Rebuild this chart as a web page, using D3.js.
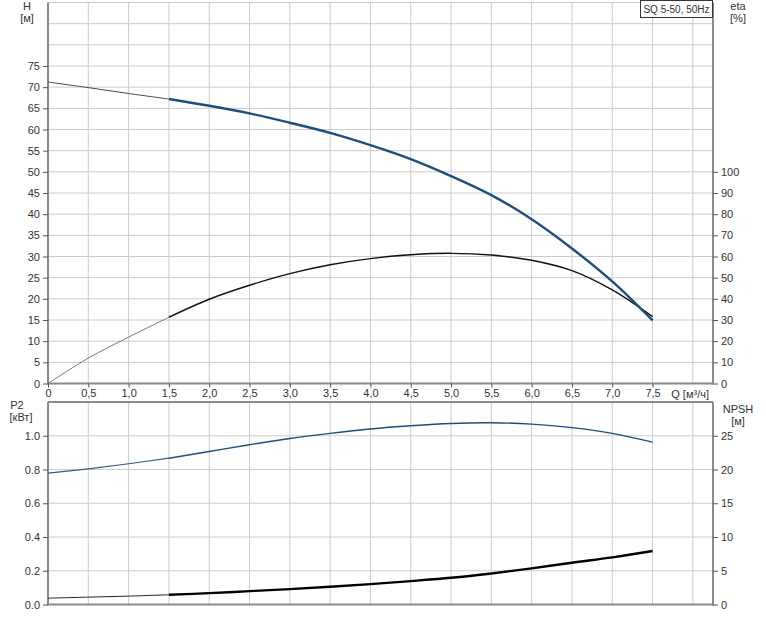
<!DOCTYPE html>
<html><head><meta charset="utf-8">
<script src="https://cdn.jsdelivr.net/npm/d3@7"></script>
<style>
body{margin:0;background:#fff;}
text{font-family:"Liberation Sans",Arial,sans-serif;font-size:11px;fill:#333;}
</style></head>
<body><svg id="c" width="766" height="618"></svg>
<script>
const qValues = [0,0.5,1.0,1.5,2.0,2.5,3.0,3.5,4.0,4.5,5.0,5.5,6.0,6.5,7.0,7.5];
const headValues = [71.2,69.9,68.5,67.2,65.6,63.8,61.6,59.2,56.3,53.0,49.0,44.5,38.8,31.9,24.1,14.9];
const etaValues = [0,12,21.9,31.3,39.8,46.4,51.9,56.1,59.0,60.8,61.5,60.7,58.2,53.3,44.2,31.6];
const p2Values = [0.778,0.804,0.834,0.867,0.907,0.947,0.984,1.014,1.040,1.059,1.073,1.077,1.069,1.048,1.014,0.962];
const npshValues = [0.94,1.09,1.24,1.44,1.68,1.98,2.28,2.62,3.02,3.47,3.96,4.6,5.35,6.19,6.98,7.92];
const xTickValues = [0,0.5,1.0,1.5,2.0,2.5,3.0,3.5,4.0,4.5,5.0,5.5,6.0,6.5,7.0,7.5];
const xTickLabels = ["0","0,5","1,0","1,5","2,0","2,5","3,0","3,5","4,0","4,5","5,0","5,5","6,0","6,5","7,0","7,5"];
const hTicks = [0,5,10,15,20,25,30,35,40,45,50,55,60,65,70,75];
const etaTicks = [0,10,20,30,40,50,60,70,80,90,100];
const p2Ticks = [0,0.2,0.4,0.6,0.8,1.0];
const npshTicks = [0,5,10,15,20,25];
const legendLabel = "SQ 5-50, 50Hz";
const splitQ = 1.5;

const svg = d3.select("#c");
const L = 48, R = 713;
const x = d3.scaleLinear().domain([0,8.25]).range([L,R]);
const yH = d3.scaleLinear().domain([0,90]).range([383.5,2.5]);
const yEta = d3.scaleLinear().domain([0,180]).range([383.5,2.5]);
const yP = d3.scaleLinear().domain([0,1.2]).range([604.5,402]);
const yN = d3.scaleLinear().domain([0,30]).range([604.5,402]);

const gridColor = "#cccccc", axisColor = "#8a8a8a";
const xGrid = d3.range(0.5, 8.01, 0.5);

function panel(y, yTop, yBot, hGrid, topBorder){
  const g = svg.append("g");
  g.selectAll(".vg").data(xGrid).join("line")
    .attr("x1",d=>x(d)).attr("x2",d=>x(d)).attr("y1",yTop).attr("y2",yBot)
    .attr("stroke",gridColor).attr("stroke-width",1);
  g.selectAll(".hg").data(hGrid).join("line")
    .attr("x1",L).attr("x2",R).attr("y1",d=>y(d)).attr("y2",d=>y(d))
    .attr("stroke",gridColor).attr("stroke-width",1);
  g.append("line").attr("x1",L).attr("x2",L).attr("y1",yTop).attr("y2",yBot+1).attr("stroke",axisColor).attr("stroke-width",2);
  g.append("line").attr("x1",R).attr("x2",R).attr("y1",yTop).attr("y2",yBot+1).attr("stroke",axisColor).attr("stroke-width",2);
  g.append("line").attr("x1",L).attr("x2",R).attr("y1",yBot).attr("y2",yBot).attr("stroke",axisColor).attr("stroke-width",2);
  if(topBorder) g.append("line").attr("x1",L).attr("x2",R).attr("y1",yTop).attr("y2",yTop).attr("stroke",axisColor).attr("stroke-width",2);
}
panel(yH, 2.5, 383.5, d3.range(5,90.1,5), false);
panel(yP, 402, 604.5, [0.2,0.4,0.6,0.8,1.0], true);

function axisStyle(g){
  g.select(".domain").remove();
  g.selectAll(".tick line").attr("stroke","#555");
  g.selectAll(".tick text").attr("fill","#333").style("font-family","'Liberation Sans',Arial,sans-serif").style("font-size","11px");
}
svg.append("g").attr("transform",`translate(${L},0)`)
  .call(d3.axisLeft(yH).tickValues(hTicks).tickSize(5).tickPadding(3).tickFormat(d3.format("d"))).call(axisStyle);
svg.append("g").attr("transform",`translate(${R},0)`)
  .call(d3.axisRight(yEta).tickValues(etaTicks).tickSize(5).tickPadding(3).tickFormat(d3.format("d"))).call(axisStyle);
svg.append("g").attr("transform",`translate(${L},0)`)
  .call(d3.axisLeft(yP).tickValues(p2Ticks).tickSize(5).tickPadding(3).tickFormat(d3.format(".1f"))).call(axisStyle);
svg.append("g").attr("transform",`translate(${R},0)`)
  .call(d3.axisRight(yN).tickValues(npshTicks).tickSize(5).tickPadding(3).tickFormat(d3.format("d"))).call(axisStyle);
svg.append("g").attr("transform",`translate(0,383.5)`)
  .call(d3.axisBottom(x).tickValues(xTickValues).tickSize(4).tickPadding(2).tickFormat((d,i)=>xTickLabels[i])).call(axisStyle);

function label(t, xx, yy, anchor){ svg.append("text").attr("x",xx).attr("y",yy).attr("text-anchor",anchor||"middle").text(t); }
label("H",27,10); label("[м]",27,22);
label("eta",738,10); label("[%]",738,22);
label("P2",17,409); label("[кВт]",21,421);
label("NPSH",738,413); label("[м]",738,425);
label("Q [м³/ч]",709,398,"end");

const lg = svg.append("g");
lg.append("rect").attr("x",640.5).attr("y",0.5).attr("width",72).attr("height",17).attr("fill","#fff").attr("stroke","#333").attr("stroke-width",1);
lg.append("text").attr("x",676.5).attr("y",13).attr("text-anchor","middle").style("font-size","10px").text(legendLabel);

const pts = (vals) => qValues.map((q,i)=>({q, v: vals[i]}));
function draw(vals, y, thinColor, thinW, thickColor, thickW){
  const p = pts(vals);
  const line = d3.line().x(d=>x(d.q)).y(d=>y(d.v)).curve(d3.curveCatmullRom.alpha(0.5));
  svg.append("path").datum(p.filter(d=>d.q<=splitQ)).attr("d",line)
    .attr("fill","none").attr("stroke",thinColor).attr("stroke-width",thinW);
  svg.append("path").datum(p.filter(d=>d.q>=splitQ)).attr("d",line)
    .attr("fill","none").attr("stroke",thickColor).attr("stroke-width",thickW);
}
draw(etaValues, yEta, "#555", 0.8, "#111", 1.4);
draw(headValues, yH, "#3a4a5a", 1, "#1c4f7e", 2.4);
draw(p2Values, yP, "#3a5a7a", 1.2, "#1c4f7e", 1.4);
draw(npshValues, yN, "#222", 1, "#000", 2.4);
</script></body></html>
